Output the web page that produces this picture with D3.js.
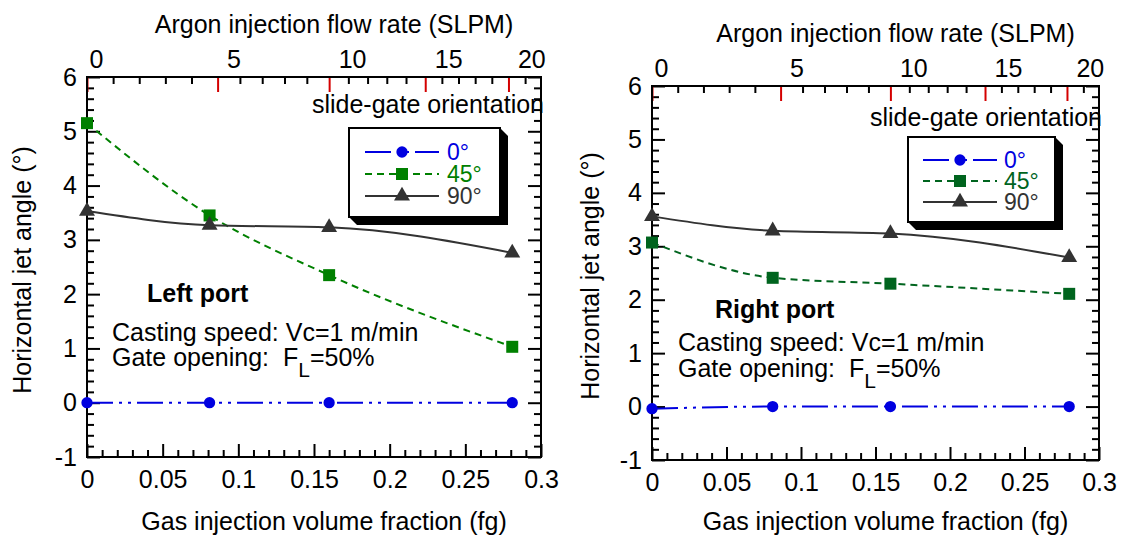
<!DOCTYPE html>
<html><head><meta charset="utf-8">
<script src="https://cdn.jsdelivr.net/npm/d3@7"></script>
<style>
html,body{margin:0;padding:0;background:#fff;}
svg{display:block;}
</style></head><body>
<svg id="chart" width="1122" height="542"></svg>
<script>
// Gas injection volume fraction (fg) of each measured case
const fgLeft = [0, 0.081, 0.16, 0.281];
const fgRight = [0, 0.081, 0.16, 0.28];

// Horizontal jet angle (deg) per slide-gate orientation
const left0 = [0, 0, 0, 0];
const left45 = [5.15, 3.45, 2.35, 1.03];
const left90 = [3.53, 3.27, 3.23, 2.76];
const right0 = [-0.04, 0, 0, 0];
const right45 = [3.07, 2.41, 2.30, 2.11];
const right90 = [3.56, 3.29, 3.24, 2.79];

const orientations = ["0°", "45°", "90°"];

// Argon flow rate (SLPM) on the top axis and the gas fraction it corresponds to
const argonMajor = [0, 5, 10, 15, 20];
const argonMajorFg = [0, 0.0863, 0.160, 0.2235, 0.2785];
const argonMinor = d3.range(0, 22);

// Bottom and left axis ticks
const fgTicks = [0, 0.05, 0.1, 0.15, 0.2, 0.25, 0.3];
const fgMinor = d3.range(0, 31).map(i => i / 100);
const angleTicks = [-1, 0, 1, 2, 3, 4, 5, 6];
const angleMinor = d3.range(-5, 31).map(i => i / 5);

const FONT = "'Liberation Sans', Arial, Helvetica, sans-serif";
const FS = 25;
const LEGEND_FS = 23;

const panels = [
  {
    fg: fgLeft, values: [left0, left45, left90], green: "#008000",
    box: {x0: 87, x1: 541, y0: 77, y1: 457},
    titleTopY: 24, titleBottomY: 521, yTitleX: 22,
    gateY: 113,
    legend: {x0: 349, x1: 500, y0: 128, y1: 217, rows: [152, 174, 196], lx0: 365, lx1: 439, tx: 447},
    port: {text: "Left port", x: 147, y: 302},
    notes: {x: 112, y1: 341, y2: 366}
  },
  {
    fg: fgRight, values: [right0, right45, right90], green: "#00641e",
    box: {x0: 652, x1: 1099, y0: 86, y1: 460},
    titleTopY: 33, titleBottomY: 521, yTitleX: 590,
    gateY: 126,
    legend: {x0: 908, x1: 1055, y0: 137, y1: 222, rows: [160, 181, 202], lx0: 923, lx1: 997, tx: 1004},
    port: {text: "Right port", x: 715, y: 318},
    notes: {x: 678, y1: 351, y2: 377}
  }
];

const svg = d3.select("#chart");
svg.append("rect").attr("width", 1122).attr("height", 542).attr("fill", "#fff");

function styleAxis(g, color) {
  g.attr("font-family", FONT).attr("font-size", FS);
  g.select(".domain").remove();
  g.selectAll("line").attr("stroke", color || "#000").attr("stroke-width", 2);
  g.selectAll("text").attr("fill", "#000");
}

function drawPanel(p) {
  const b = p.box;
  const x = d3.scaleLinear().domain([0, 0.3]).range([b.x0, b.x1]);
  const y = d3.scaleLinear().domain([-1, 6]).range([b.y1, b.y0]);
  const argon = d3.scaleLinear().domain(argonMajor).range(argonMajorFg.map(v => x(v)));
  const g = svg.append("g");

  // bottom axis: gas fraction
  g.append("g").attr("transform", `translate(0,${b.y1})`)
    .call(d3.axisBottom(x).tickValues(fgMinor.filter((v, i) => i % 5 !== 0)).tickSize(-7).tickFormat(""))
    .call(a => styleAxis(a));
  g.append("g").attr("transform", `translate(0,${b.y1})`)
    .call(d3.axisBottom(x).tickValues(fgTicks).tickSize(-13).tickPadding(13).tickFormat(d => String(d)))
    .call(a => styleAxis(a));

  // left axis: jet angle
  g.append("g").attr("transform", `translate(${b.x0},0)`)
    .call(d3.axisLeft(y).tickValues(angleMinor.filter((v, i) => i % 5 !== 0)).tickSize(-7).tickFormat(""))
    .call(a => styleAxis(a));
  g.append("g").attr("transform", `translate(${b.x0},0)`)
    .call(d3.axisLeft(y).tickValues(angleTicks).tickSize(-13).tickPadding(10).tickFormat(d => String(d)))
    .call(a => styleAxis(a));

  // right axis mirror
  g.append("g").attr("transform", `translate(${b.x1},0)`)
    .call(d3.axisRight(y).tickValues(angleMinor.filter((v, i) => i % 5 !== 0)).tickSize(-7).tickFormat(""))
    .call(a => styleAxis(a));
  g.append("g").attr("transform", `translate(${b.x1},0)`)
    .call(d3.axisRight(y).tickValues(angleTicks).tickSize(-13).tickFormat(""))
    .call(a => styleAxis(a));

  // top axis: argon flow rate
  g.append("g").attr("transform", `translate(0,${b.y0})`)
    .call(d3.axisTop(argon).tickValues(argonMinor.filter(v => !argonMajor.includes(v))).tickSize(-7).tickFormat(""))
    .call(a => styleAxis(a));
  const top = g.append("g").attr("transform", `translate(0,${b.y0})`)
    .call(d3.axisTop(argon).tickValues(argonMajor).tickSize(-15).tickPadding(9).tickFormat(d => String(d)))
    .call(a => styleAxis(a, "#d40000"));
  top.selectAll("text").attr("text-anchor", "start").attr("dx", (d, i) => i === 0 ? 2 : 9);

  // "slide-gate orientation" caption sits under the frame edge
  g.append("text").attr("x", b.x1 + 3).attr("y", p.gateY)
    .attr("text-anchor", "end").attr("font-family", FONT).attr("font-size", FS)
    .text("slide-gate orientation");

  // frame
  g.append("rect").attr("x", b.x0).attr("y", b.y0)
    .attr("width", b.x1 - b.x0).attr("height", b.y1 - b.y0)
    .attr("fill", "none").attr("stroke", "#000").attr("stroke-width", 2);

  // titles
  const cx = (b.x0 + b.x1) / 2;
  g.append("text").attr("x", cx + 20).attr("y", p.titleTopY).attr("dy", "0.36em")
    .attr("text-anchor", "middle").attr("font-family", FONT).attr("font-size", FS)
    .text("Argon injection flow rate (SLPM)");
  g.append("text").attr("x", cx + 10).attr("y", p.titleBottomY).attr("dy", "0.36em")
    .attr("text-anchor", "middle").attr("font-family", FONT).attr("font-size", FS)
    .text("Gas injection volume fraction (fg)");
  g.append("text")
    .attr("transform", `translate(${p.yTitleX},${(b.y0 + b.y1) / 2 + 3}) rotate(-90)`)
    .attr("dy", "0.36em").attr("text-anchor", "middle")
    .attr("font-family", FONT).attr("font-size", FS)
    .text("Horizontal jet angle (°)");

  // series styles
  const styles = [
    {color: "#0000e0", dash: "26,6,3,6,3,6", symbol: d3.symbolCircle, size: 100},
    {color: p.green, dash: "7,5", symbol: d3.symbolSquare, size: 144},
    {color: "#333333", dash: null, symbol: d3.symbolTriangle, size: 110}
  ];

  const line = d3.line().x(d => x(d[0])).y(d => y(d[1])).curve(d3.curveMonotoneX);

  p.values.forEach((vals, si) => {
    const st = styles[si];
    const pts = p.fg.map((f, i) => [f, vals[i]]);
    g.append("path").attr("d", line(pts)).attr("fill", "none")
      .attr("stroke", st.color).attr("stroke-width", 2)
      .attr("stroke-dasharray", st.dash);
    g.selectAll(null).data(pts).enter().append("path")
      .attr("d", d3.symbol(st.symbol, st.size))
      .attr("transform", d => `translate(${x(d[0])},${y(d[1])})`)
      .attr("fill", st.color);
  });

  // legend with extruded shadow
  const L = p.legend, d = 8;
  g.append("polygon")
    .attr("points", [[L.x1, L.y0], [L.x1 + d, L.y0 + d], [L.x1 + d, L.y1 + d], [L.x0 + d, L.y1 + d], [L.x0, L.y1]].map(q => q.join(",")).join(" "))
    .attr("fill", "#000");
  g.append("rect").attr("x", L.x0).attr("y", L.y0)
    .attr("width", L.x1 - L.x0).attr("height", L.y1 - L.y0)
    .attr("fill", "#fff").attr("stroke", "#000").attr("stroke-width", 2);
  orientations.forEach((name, si) => {
    const st = styles[si], ry = L.rows[si];
    g.append("line").attr("x1", L.lx0).attr("x2", L.lx1).attr("y1", ry).attr("y2", ry)
      .attr("stroke", st.color).attr("stroke-width", 2).attr("stroke-dasharray", st.dash);
    g.append("path").attr("d", d3.symbol(st.symbol, st.size))
      .attr("transform", `translate(${(L.lx0 + L.lx1) / 2},${ry})`).attr("fill", st.color);
    g.append("text").attr("x", L.tx).attr("y", ry + 8)
      .attr("font-family", FONT).attr("font-size", LEGEND_FS).attr("fill", st.color)
      .text(name);
  });

  // annotations
  g.append("text").attr("x", p.port.x).attr("y", p.port.y)
    .attr("font-family", FONT).attr("font-size", FS).attr("font-weight", "bold")
    .text(p.port.text);
  g.append("text").attr("x", p.notes.x).attr("y", p.notes.y1)
    .attr("font-family", FONT).attr("font-size", FS)
    .text("Casting speed: Vc=1 m/min");
  const gate = g.append("text").attr("x", p.notes.x).attr("y", p.notes.y2)
    .attr("font-family", FONT).attr("font-size", FS).style("white-space", "pre");
  gate.append("tspan").text("Gate opening:  F");
  gate.append("tspan").attr("dy", 11).attr("font-size", 21).text("L");
  gate.append("tspan").attr("dy", -11).text("=50%");
}

panels.forEach(drawPanel);
</script>
</body></html>
